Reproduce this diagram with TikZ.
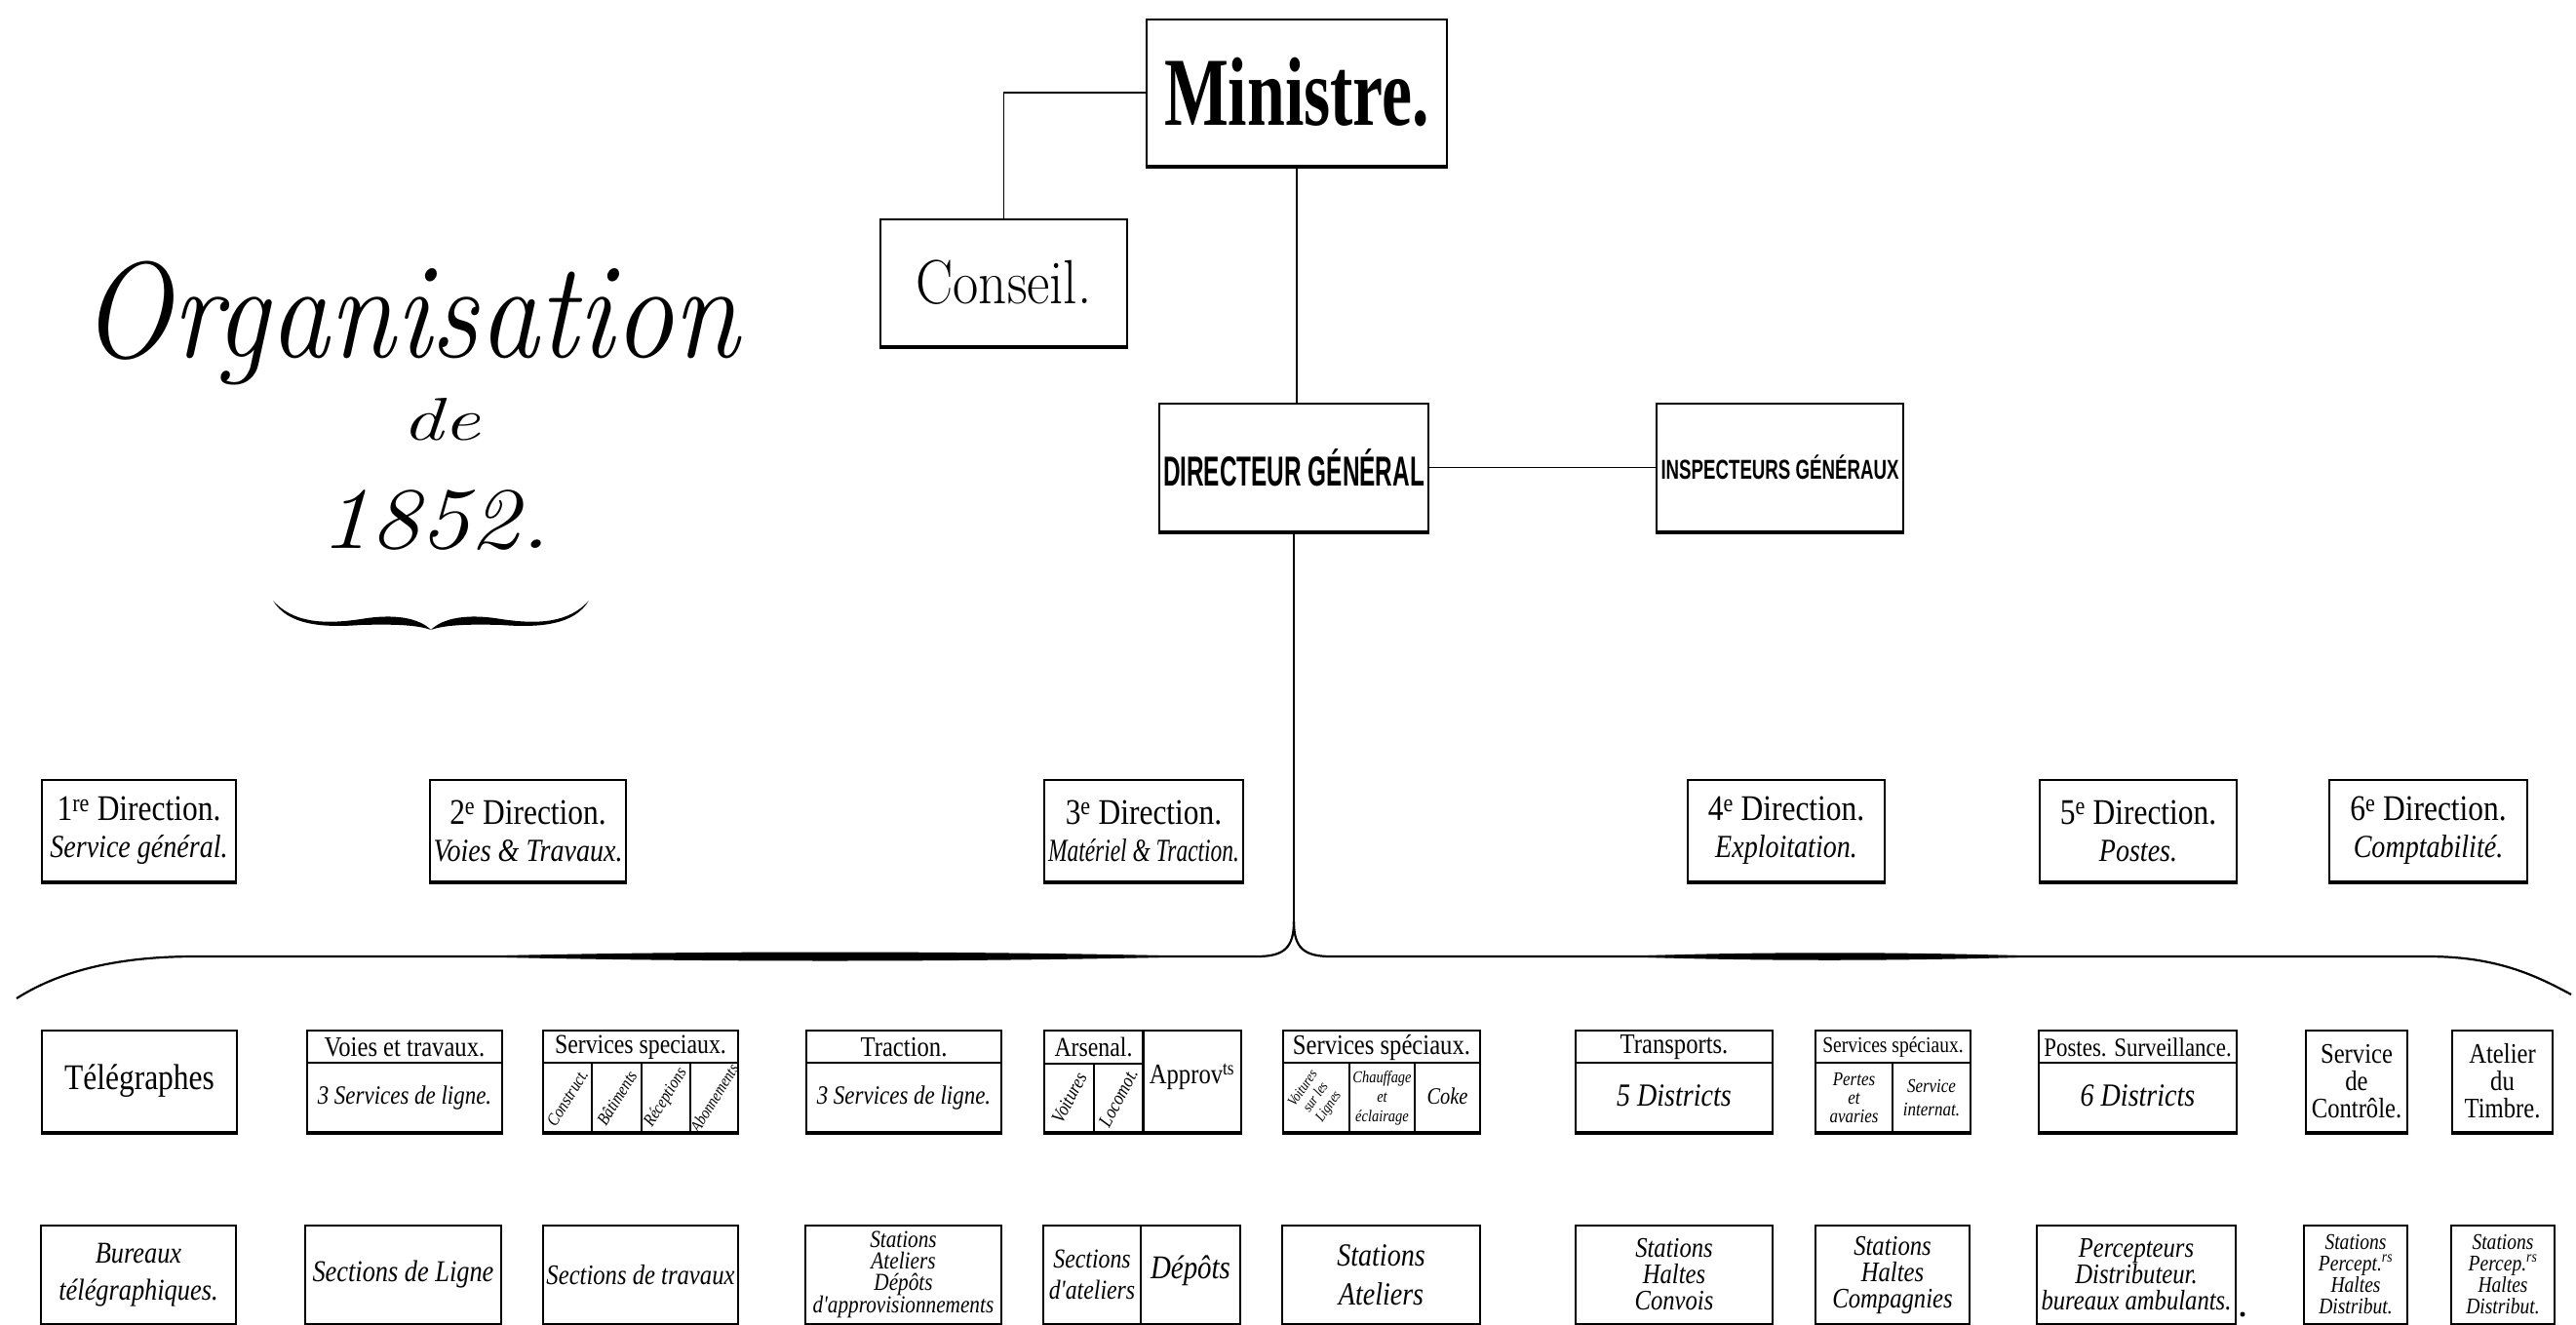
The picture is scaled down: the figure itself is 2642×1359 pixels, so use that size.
\documentclass[tikz,border=0pt]{standalone}
\usepackage{fontspec}
\usepackage{graphicx}
\usetikzlibrary{calc}
\setmainfont{Liberation Serif}
\newfontfamily\hand{Liberation Serif}[FakeStretch=0.85]
\newfontfamily\titlef{Latin Modern Roman}
\newfontfamily\consf{Latin Modern Roman}
\newfontfamily\capsf{Liberation Sans}
\newcommand\fitto[2]{\resizebox{#1}{\height}{#2}}
\tikzset{
  bx/.style={draw, line width=1.6pt, inner sep=0pt, align=center},
  botline/.style={line width=4.5pt},
  conn/.style={line width=1.6pt},
  bracel/.style={line width=2.2pt},
  thinl/.style={line width=1.4pt},
  fu/.style 2 args={font=\hand\fontsize{#1}{#2}\selectfont, align=center, inner sep=0pt},
  fi/.style 2 args={font=\hand\itshape\fontsize{#1}{#2}\selectfont, align=center, inner sep=0pt},
}
\newcommand\ORGbox[7]{%
  \node[bx,#6, minimum width={#4-#2}, minimum height={#5-#3}] (#1) at ({(#2+#4)/2},{(#3+#5)/2}) {#7};
  \draw[botline] (#1.south west) -- (#1.south east);}
\newcommand\dirl[1]{{\fontsize{37}{37}\selectfont #1}}
\begin{document}
\begin{tikzpicture}[x=1pt,y=-1pt]
\fill[white] (0,0) rectangle (2642,1359);
\useasboundingbox (0,0) rectangle (2642,1359);

% ---------- title ----------
\node[anchor=base, inner sep=0pt] (ttl) at (421,366) {\fitto{674pt}{\titlef\itshape\fontsize{140}{140}\selectfont Organisation}};
\node[anchor=base, inner sep=0pt] (tde) at (452,451) {\fitto{80pt}{\titlef\itshape\fontsize{62}{62}\selectfont de}};
\node[anchor=base, inner sep=0pt] (tyr) at (446,562) {\fitto{236pt}{\titlef\itshape\fontsize{90}{90}\selectfont 1852.}};
\fill (280,616) .. controls (300,638) and (330,641) .. (370,635) .. controls (405,629) and (430,634) .. (442,646)
      .. controls (428,641) and (405,640) .. (370,641) .. controls (330,644) and (295,641) .. (280,616);
\fill (604,616) .. controls (584,638) and (554,641) .. (514,635) .. controls (479,629) and (454,634) .. (442,646)
      .. controls (456,641) and (479,640) .. (514,641) .. controls (554,644) and (589,641) .. (604,616);

% ---------- top hierarchy ----------
\ORGbox{min}{1176}{20}{1484}{170}{}{\fitto{272pt}{\fontsize{100}{100}\selectfont\bfseries Ministre.}}
\ORGbox{cons}{903}{225}{1156}{355}{}{\fitto{180pt}{\consf\fontsize{64}{64}\selectfont Conseil.}}
\ORGbox{dg}{1189}{414}{1465}{545}{}{\fitto{268pt}{\capsf\bfseries\fontsize{43}{43}\selectfont DIRECTEUR GÉNÉRAL}}
\ORGbox{insp}{1699}{414}{1952}{545}{}{\fitto{244pt}{\capsf\bfseries\fontsize{28}{28}\selectfont INSPECTEURS GÉNÉRAUX}}

\draw[conn] (min.west) -| (cons.north);
\draw[conn] (min.south) -- (min.south |- dg.north);
\draw[conn] (dg.east) -- (insp.west);

% ---------- big brace ----------
\coordinate (bj) at (dg.south |- 0,945);
\coordinate (bl) at (17,1024);
\coordinate (br) at (2637,1020);
\draw[conn] (dg.south) -- (bj);
\draw[bracel] (bj) .. controls ($(bj)+(0,27)$) and ($(bj)+(-10,36)$) .. ($(bj)+(-38,36)$) -- (200,981) .. controls (110,981) and (55,1000) .. (bl);
\draw[bracel] (bj) .. controls ($(bj)+(0,27)$) and ($(bj)+(10,36)$) .. ($(bj)+(38,36)$) -- (2490,981) .. controls (2560,981) and (2600,1000) .. (br);
\fill (480,981) .. controls (700,975) and (1000,975) .. (1230,981) .. controls (1000,987) and (700,987) .. (480,981);
\fill (1660,981) .. controls (1800,976) and (1950,976) .. (2100,981) .. controls (1950,986) and (1800,986) .. (1660,981);

% ---------- row 1: directions ----------
\ORGbox{dA}{43}{800}{242}{904}{fu={33}{38}}{\dirl{1\textsuperscript{re} Direction.}\\{\itshape Service général.}}
\ORGbox{dB}{441}{800}{642}{904}{fu={33}{38}}{\dirl{2\textsuperscript{e} Direction.}\\{\itshape Voies \& Travaux.}}
\ORGbox{dC}{1071}{800}{1275}{904}{fu={33}{38}}{\dirl{3\textsuperscript{e} Direction.}\\{\itshape\fitto{196pt}{Matériel \& Traction.}}}
\ORGbox{dD}{1731}{800}{1933}{904}{fu={33}{38}}{\dirl{4\textsuperscript{e} Direction.}\\{\itshape Exploitation.}}
\ORGbox{dE}{2092}{800}{2294}{904}{fu={33}{38}}{\dirl{5\textsuperscript{e} Direction.}\\{\itshape Postes.}}
\ORGbox{dF}{2389}{800}{2592}{904}{fu={33}{38}}{\dirl{6\textsuperscript{e} Direction.}\\{\itshape Comptabilité.}}

% ---------- row 2 ----------
\ORGbox{ra}{43}{1057}{243}{1161}{fu={37}{40}}{Télégraphes}

\ORGbox{rb}{315}{1057}{515}{1161}{}{}
\draw[thinl] (rb.west |- 0,1090) -- (rb.east |- 0,1090);
\node[fu={29}{30}] (rbh) at (415,1074) {Voies et travaux.};
\node[fi={27}{30}] (rbb) at (415,1126) {3 Services de ligne.};

\ORGbox{rc}{557}{1057}{757}{1161}{}{}
\draw[thinl] (rc.west |- 0,1090) -- (rc.east |- 0,1090);
\draw[thinl] (607,1090) -- (607,1161);
\draw[thinl] (658,1090) -- (658,1161);
\draw[thinl] (708,1090) -- (708,1161);
\node[fu={28}{30}] (rch) at (657,1074) {Services speciaux.};
\node[fi={18}{18}, rotate=58] (rc1) at (582,1126) {Construct.};
\node[fi={18}{18}, rotate=58] (rc2) at (632.5,1126) {Bâtiments};
\node[fi={18}{18}, rotate=58] (rc3) at (683,1126) {Réceptions};
\node[fi={17}{17}, rotate=58] (rc4) at (732.5,1126) {Abonnements};

\ORGbox{rd}{827}{1057}{1027}{1161}{}{}
\draw[thinl] (rd.west |- 0,1090) -- (rd.east |- 0,1090);
\node[fu={29}{30}] (rdh) at (927,1074) {Traction.};
\node[fi={27}{30}] (rdb) at (927,1126) {3 Services de ligne.};

\ORGbox{re}{1071}{1057}{1273}{1161}{}{}
\draw[line width=3pt] (1172,1057) -- (1172,1161);
\draw[thinl] (1071,1091) -- (1172,1091);
\draw[thinl] (1122,1091) -- (1122,1161);
\node[fu={28}{30}] (reh) at (1121.5,1074) {Arsenal.};
\node[fi={20}{20}, rotate=62] (re1) at (1096.5,1126) {Voitures};
\node[fi={20}{20}, rotate=62] (re2) at (1147,1126) {Locomot.};
\node[fu={29}{30}] (re3) at (1222.5,1104) {Approv\textsuperscript{ts}};

\ORGbox{rf}{1316}{1057}{1518}{1161}{}{}
\draw[thinl] (rf.west |- 0,1090) -- (rf.east |- 0,1090);
\draw[thinl] (1384,1090) -- (1384,1161);
\draw[thinl] (1451,1090) -- (1451,1161);
\node[fu={29}{30}] (rfh) at (1417,1074) {Services spéciaux.};
\node[fi={15}{16}, rotate=55] (rf1) at (1350,1126) {Voitures\\sur les\\Lignes};
\node[fi={17}{20}] (rf2) at (1417.5,1126) {Chauffage\\et\\éclairage};
\node[fi={24}{24}] (rf3) at (1484.5,1124) {Coke};

\ORGbox{rg}{1616}{1057}{1818}{1161}{}{}
\draw[thinl] (rg.west |- 0,1090) -- (rg.east |- 0,1090);
\node[fu={29}{30}] (rgh) at (1717,1074) {Transports.};
\node[fi={33}{34}] (rgb) at (1717,1124) {5 Districts};

\ORGbox{rh}{1862}{1057}{2021}{1161}{}{}
\draw[thinl] (rh.west |- 0,1090) -- (rh.east |- 0,1090);
\draw[thinl] (1941,1090) -- (1941,1161);
\node[fu={23}{25}] (rhh) at (1941.5,1074) {Services spéciaux.};
\node[fi={20}{19}] (rh1) at (1901.5,1126) {Pertes\\et\\avaries};
\node[fi={20}{24}] (rh2) at (1981,1126) {Service\\internat.};

\ORGbox{ri}{2091}{1057}{2294}{1161}{}{}
\draw[thinl] (ri.west |- 0,1090) -- (ri.east |- 0,1090);
\node[fu={27}{30}] (rih) at (2192.5,1074) {Postes. Surveillance.};
\node[fi={33}{34}] (rib) at (2192.5,1124) {6 Districts};

\ORGbox{rj}{2365}{1057}{2469}{1161}{fu={29}{28}}{Service\\de\\Contrôle.}
\ORGbox{rk}{2515}{1057}{2618}{1161}{fu={29}{28}}{Atelier\\du\\Timbre.}

% ---------- row 3 ----------
\ORGbox{sa}{42}{1257}{242}{1358}{fi={31}{38}}{Bureaux\\télégraphiques.}
\ORGbox{sb}{313}{1257}{514}{1358}{fi={31}{34}}{Sections de Ligne}
\ORGbox{sc}{557}{1257}{757}{1358}{fi={29}{34}}{Sections de travaux}
\ORGbox{sd}{826}{1257}{1027}{1358}{fi={25}{22}}{Stations\\Ateliers\\Dépôts\\d'approvisionnements}
\ORGbox{se}{1070}{1257}{1272}{1358}{}{}
\draw[thinl] (1170,1257) -- (1170,1358);
\node[fi={28}{32}] (se1) at (1120,1307) {Sections\\d'ateliers};
\node[fi={34}{34}] (se2) at (1221,1303) {Dépôts};
\ORGbox{sf}{1315}{1257}{1518}{1358}{fi={33}{40}}{Stations\\Ateliers}
\ORGbox{sg}{1616}{1257}{1818}{1358}{fi={29}{27}}{Stations\\Haltes\\Convois}
\ORGbox{sh}{1862}{1257}{2020}{1358}{fi={29}{27}}{Stations\\Haltes\\Compagnies}
\ORGbox{si}{2089}{1257}{2293}{1358}{fi={29}{27}}{Percepteurs\\Distributeur.\\bureaux ambulants.}
\fill (2300,1348) circle (2.5);
\ORGbox{sj}{2363}{1257}{2469}{1358}{fi={23}{22}}{Stations\\Percept.\textsuperscript{rs}\\Haltes\\Distribut.}
\ORGbox{sk}{2514}{1257}{2620}{1358}{fi={23}{22}}{Stations\\Percep.\textsuperscript{rs}\\Haltes\\Distribut.}
\end{tikzpicture}
\end{document}
